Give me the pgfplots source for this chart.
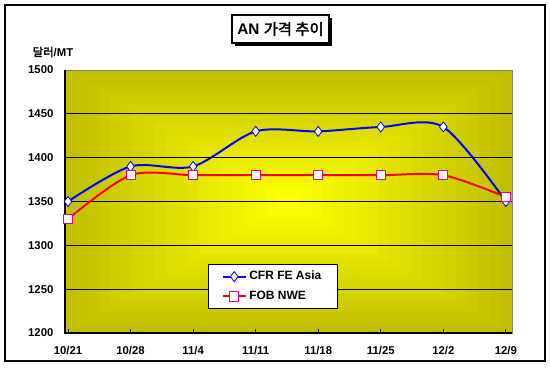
\documentclass[border=0pt]{standalone}
\usepackage{pgfplots}
\pgfplotsset{compat=1.18}
\usepackage{fontspec}
\setmainfont{Liberation Sans}
\newfontfamily\kr{Noto Sans CJK KR}[AutoFakeBold=2.5]
\definecolor{olv}{RGB}{192,192,0}
\definecolor{ylw}{RGB}{255,255,0}
\begin{document}
\begin{tikzpicture}[x=0.75pt,y=0.75pt]
\path (0,0) rectangle (550,369);
\draw[line width=1.5pt] (4.5,364.5) rectangle (544.5,8);
% stepped centre gradient of the plot area
\foreach \i in {0,...,19}{
  \pgfmathsetmacro\t{\i/20}
  \pgfmathsetmacro\p{100*\i/19}
  \fill[ylw!\p!olv] ({65+223.5*\t},{36+131.5*\t}) rectangle ({512-223.5*\t},{299-131.5*\t});
}
% title
\fill[black] (235,323) rectangle (332,351);
\draw[fill=white, line width=1pt] (232,354) rectangle (329,326);
\node at (280.5,340) {\fontsize{11.5}{13}\selectfont\bfseries AN {\kr\bfseries 가격 추이}};
% y unit label
\node at (53,317) {\fontsize{8.5}{10}\selectfont\bfseries{\kr\bfseries 달러}/MT};
\begin{axis}[
  at={(48.75pt,27pt)}, anchor=south west,
  scale only axis, width=335.25pt, height=197.25pt,
  xmin=-0.048, xmax=7.098, ymin=1200, ymax=1500,
  ytick={1200,1250,...,1500},
  xtick={0,...,7},
  xticklabels={10/21,10/28,11/4,11/11,11/18,11/25,12/2,12/9},
  ymajorgrids, grid style={black, line width=0.75pt},
  axis line style={draw=gray, line width=0.75pt},
  tick align=inside, xtick pos=bottom, ytick pos=left,
  major tick length=3pt,
  xtick style={black, line width=0.75pt},
  ytick style={draw=none},
  tick label style={font=\fontsize{8.5}{9}\selectfont\bfseries},
  xticklabel style={anchor=center, yshift=-13.5pt},
  yticklabel style={anchor=east, inner sep=0pt, xshift=-8.5pt},
  /pgf/number format/assume math mode=true,
  /pgf/number format/1000 sep={},
  clip=false,
  legend style={at={(0.32,0.262)}, anchor=north west, draw=black, line width=0.75pt, fill=white,
    font=\fontsize{9}{10}\selectfont\bfseries, inner xsep=10pt, inner ysep=3pt, row sep=3pt},
  legend cell align=left,
]
\draw[black, line width=1pt] (rel axis cs:0,1) -- (rel axis cs:0,0) -- (rel axis cs:1,0);
\addplot[blue, line width=1.5pt, smooth, mark=diamond*, mark size=3.8pt,
  mark options={fill=white, draw=blue, line width=0.6pt}]
  coordinates {(0,1350)(1,1390)(2,1390)(3,1430)(4,1430)(5,1435)(6,1435)(7,1350)};
\addlegendentry{CFR FE Asia}
\addplot[red, line width=1.5pt, smooth, mark=square*, mark size=3.4pt,
  mark options={fill=white, draw=magenta, line width=0.75pt}]
  coordinates {(0,1330)(1,1380)(2,1380)(3,1380)(4,1380)(5,1380)(6,1380)(7,1355)};
\addlegendentry{FOB NWE}
\end{axis}
\end{tikzpicture}
\end{document}
